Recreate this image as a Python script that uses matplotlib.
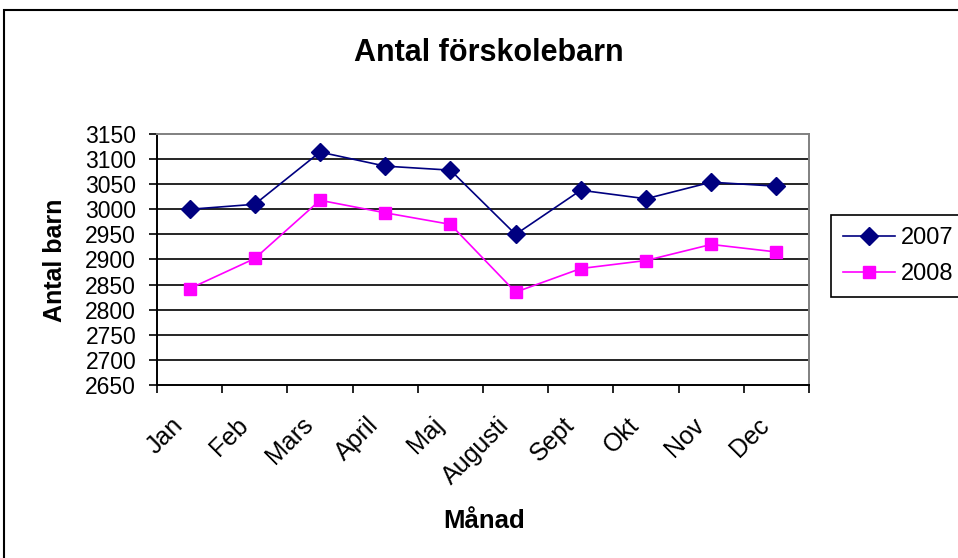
import numpy as np
import matplotlib.pyplot as plt
from matplotlib.patches import Rectangle
from matplotlib.transforms import ScaledTranslation

plt.rcParams['font.family'] = ['Liberation Sans', 'DejaVu Sans']

manader = ['Jan', 'Feb', 'Mars', 'April', 'Maj', 'Augusti', 'Sept', 'Okt', 'Nov', 'Dec']
barn_2007 = [3000, 3010, 3114, 3086, 3078, 2950, 3038, 3021, 3054, 3046]
barn_2008 = [2842, 2902, 3018, 2993, 2970, 2835, 2882, 2898, 2930, 2915]
y_ticks = np.arange(2650, 3151, 50)

fig = plt.figure(figsize=(9.58, 5.58), dpi=100)
ax = fig.add_axes([157/958, 1 - 385/558, (809 - 157)/958, (385 - 134)/558])

x = np.arange(len(manader))
ax.plot(x, barn_2007, color='#000080', marker='D', markersize=9.5, linewidth=1.2, label='2007', zorder=3)
ax.plot(x, barn_2008, color='#FF00FF', marker='s', markersize=8.5, linewidth=1.2, label='2008', zorder=3)

ax.set_xlim(-0.5, len(manader) - 0.5)
ax.set_ylim(2650, 3150)
ax.set_yticks(y_ticks)
ax.set_yticklabels([str(v) for v in y_ticks], fontsize=16.5)
for v in y_ticks[1:-1]:
    ax.axhline(v, color='black', linewidth=1.2, zorder=1)

ax.set_xticks(x)
ax.set_xticklabels(manader, fontsize=18, rotation=45, ha='right', va='top', rotation_mode='anchor')
ax.set_xticks(np.arange(-0.5, len(manader)), minor=True)
ax.tick_params(axis='x', which='major', length=0, pad=20)
ax.tick_params(axis='x', which='minor', length=6, width=1.2, direction='out')
ax.tick_params(axis='y', length=6, width=1.2, direction='out', pad=9)

# labels sit a bit left of the category centre, like in Excel
shift = ScaledTranslation(-0.19, 0, fig.dpi_scale_trans)
for lbl in ax.get_xticklabels():
    lbl.set_transform(lbl.get_transform() + shift)

for side in ['left', 'bottom']:
    ax.spines[side].set_color('black')
    ax.spines[side].set_linewidth(1.4)
for side in ['top', 'right']:
    ax.spines[side].set_color('#808080')
    ax.spines[side].set_linewidth(1.4)

fig.text(489/958, 1 - 53/558, 'Antal förskolebarn', fontsize=22, fontweight='bold', ha='center', va='center')
fig.text(484/958, 1 - 521/558, 'Månad', fontsize=18.5, fontweight='bold', ha='center', va='center')
fig.text(55/958, 1 - 260/558, 'Antal barn', fontsize=18, fontweight='bold', ha='center', va='center', rotation=90)

leg = ax.legend(loc='upper left', bbox_to_anchor=(831/958, 1 - 215/558), bbox_transform=fig.transFigure,
                fontsize=17, frameon=True, fancybox=False, framealpha=1, edgecolor='black',
                borderaxespad=0, handlelength=2.2, handletextpad=0.25, labelspacing=0.6, borderpad=0.5)
leg.get_frame().set_linewidth(1.2)

fig.patches.append(Rectangle((4/958, -0.05), 1.1, 1 - 10/558 + 0.05, transform=fig.transFigure,
                             fill=False, edgecolor='black', linewidth=1.5))

fig.savefig('out.png', dpi=100)
